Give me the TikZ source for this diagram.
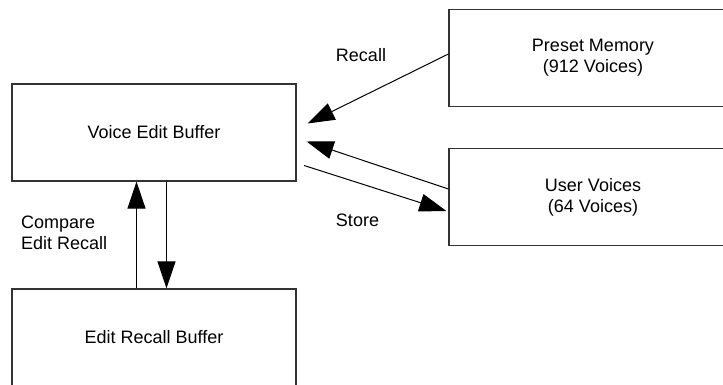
\documentclass[tikz,border=0pt]{standalone}
\usepackage{fontspec}
\setmainfont{Liberation Sans}
\usepackage{tikz}
\usetikzlibrary{arrows.meta}

\begin{document}
\begin{tikzpicture}[x=1pt,y=-1pt,
  box/.style={draw=black!80, line width=1.2pt, minimum width=284pt, minimum height=97pt, align=center, font=\fontsize{18}{21}\selectfont},
  lbl/.style={inner sep=0pt, align=left, font=\fontsize{18}{21}\selectfont},
  big/.style={-{Triangle[length=27pt,width=18pt]}, line width=1pt}]
  \useasboundingbox (0,0) rectangle (723,385);
  \clip (0,0) rectangle (723,385);
  \node[box] (veb) at (154,132.5) {Voice Edit Buffer};
  \node[box, minimum width=288pt] (pm) at (593,58) {Preset Memory\\(912 Voices)};
  \node[box, minimum width=288pt] (uv) at (593,197) {User Voices\\(64 Voices)};
  \node[box] (erb) at (154,337.5) {Edit Recall Buffer};
  \node[lbl] (recall) at (361,55) {Recall};
  \node[lbl] (store) at (357.5,220) {Store};
  \node[lbl, anchor=west] (cmp) at (21,232.5) {Compare\\Edit Recall};
  \path[big]
  ([yshift=4pt]pm.west) edge ([xshift=11pt,yshift=9pt]veb.east)
  ([yshift=8pt]uv.west) edge ([xshift=10pt,yshift=-9pt]veb.east)
  ([xshift=7.5pt,yshift=-33pt]veb.east) edge ([xshift=-2pt,yshift=-14pt]uv.west)
  ([xshift=-17.5pt]erb.north) edge ([xshift=-17.5pt]veb.south)
  ([xshift=12.5pt]veb.south) edge ([xshift=12.5pt]erb.north)
  ;
\end{tikzpicture}
\end{document}
